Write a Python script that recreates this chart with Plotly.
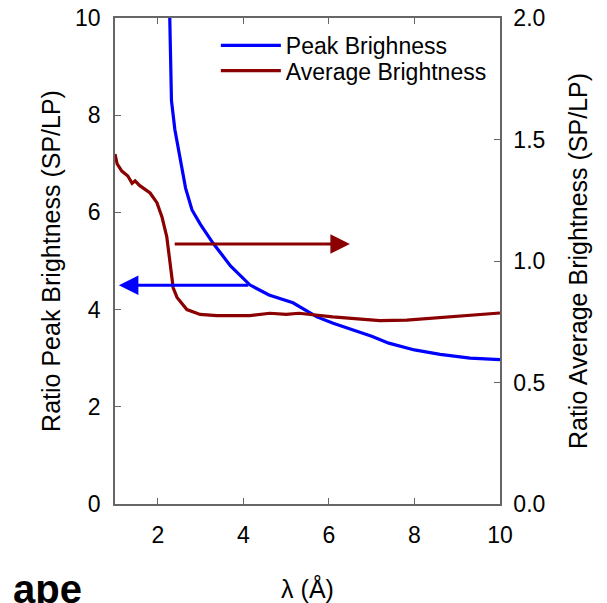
import plotly.graph_objects as go

# Peak brightness ratio (left axis)
peak_x = [2.28, 2.32, 2.40, 2.52, 2.65, 2.80, 3.0, 3.29, 3.7, 4.15, 4.6, 5.16, 5.72, 6.1, 6.5, 7.0, 7.4, 8.0, 8.6, 9.3, 10.0]
peak_y = [10.0, 8.3, 7.7, 7.1, 6.5, 6.05, 5.75, 5.37, 4.9, 4.51, 4.3, 4.14, 3.85, 3.72, 3.6, 3.45, 3.31, 3.17, 3.08, 3.0, 2.97]

# Average brightness ratio (right axis)
avg_x = [1.0, 1.05, 1.16, 1.30, 1.40, 1.47, 1.58, 1.82, 1.98, 2.10, 2.21, 2.29, 2.36, 2.45, 2.68, 2.99, 3.38, 4.15, 4.62, 5.0, 5.3, 6.09, 6.5, 7.19, 7.82, 8.83, 9.29, 10.0]
avg_y = [1.44, 1.40, 1.37, 1.35, 1.32, 1.33, 1.31, 1.28, 1.24, 1.18, 1.10, 0.99, 0.89, 0.85, 0.80, 0.78, 0.775, 0.775, 0.785, 0.78, 0.785, 0.77, 0.765, 0.755, 0.757, 0.77, 0.777, 0.786]

x_ticks = [2, 4, 6, 8, 10]
left_ticks = [0, 2, 4, 6, 8, 10]
right_ticks = [0.0, 0.5, 1.0, 1.5, 2.0]

# Arrows: (tail_x, head_x, y on left axis)
red_arrow = (2.36, 6.49, 5.35)
blue_arrow = (4.15, 1.09, 4.5)

FONT = "Arial, Liberation Sans, sans-serif"
AX = "#666666"

fig = go.Figure()
fig.add_trace(go.Scatter(x=peak_x, y=peak_y, mode="lines", name="Peak Brighness",
                         line=dict(color="#0000ff", width=3.2), yaxis="y", legend="legend"))
fig.add_trace(go.Scatter(x=avg_x, y=avg_y, mode="lines", name="Average Brightness",
                         line=dict(color="#8b0000", width=3.2), yaxis="y2", legend="legend2"))

fig.add_annotation(x=red_arrow[1], y=red_arrow[2], ax=red_arrow[0], ay=red_arrow[2],
                   xref="x", yref="y", axref="x", ayref="y", text="", showarrow=True,
                   arrowhead=2, arrowsize=1.3, arrowwidth=3, arrowcolor="#8b0000")
fig.add_annotation(x=blue_arrow[1], y=blue_arrow[2], ax=blue_arrow[0], ay=blue_arrow[2],
                   xref="x", yref="y", axref="x", ayref="y", text="", showarrow=True,
                   arrowhead=2, arrowsize=1.3, arrowwidth=3, arrowcolor="#0000ff")

# cropped bold fragment at the bottom-left corner
fig.add_annotation(x=-0.081, y=-0.2235, xref="paper", yref="paper", text="<b>ape</b>",
                   xanchor="right", yanchor="bottom", showarrow=False,
                   font=dict(size=40, color="black", family=FONT))

leg = dict(xanchor="left", yanchor="top", bgcolor="rgba(0,0,0,0)",
           font=dict(size=23, family=FONT, color="black"), itemwidth=60)

fig.update_layout(
    width=607, height=603,
    margin=dict(l=115, r=107, t=18, b=99, autoexpand=False),
    paper_bgcolor="white", plot_bgcolor="white",
    font=dict(family=FONT, color="black", size=24),
    showlegend=True,
    legend=dict(x=0.262, y=0.988, **leg),
    legend2=dict(x=0.262, y=0.936, **leg),
    xaxis=dict(range=[1, 10], tickvals=x_ticks, ticks="inside", ticklen=6, tickcolor=AX,
               showline=True, linecolor=AX, linewidth=1.5, mirror="ticks", showgrid=False,
               zeroline=False, tickfont=dict(size=23), automargin=False, ticklabelstandoff=10,
               title=dict(text="λ (Å)", font=dict(size=25), standoff=33)),
    yaxis=dict(range=[0, 10], tickvals=left_ticks, ticks="inside", ticklen=6, tickcolor=AX,
               showline=True, linecolor=AX, linewidth=1.5, showgrid=False, zeroline=False,
               tickfont=dict(size=23), automargin=False, ticklabelstandoff=8,
               title=dict(text="Ratio Peak Brightness (SP/LP)", font=dict(size=25), standoff=7)),
    yaxis2=dict(range=[0, 2], tickvals=right_ticks, tickformat=".1f", overlaying="y", side="right",
                ticks="inside", ticklen=6, tickcolor=AX, showline=True, linecolor=AX, linewidth=1.5,
                showgrid=False, zeroline=False, tickfont=dict(size=23), automargin=False,
                ticklabelstandoff=7,
                title=dict(text="Ratio Average Brightness (SP/LP)", font=dict(size=25), standoff=25)),
)

fig.write_html("out.html", config={"displayModeBar": False},
               post_script="document.body.style.margin='0';")
